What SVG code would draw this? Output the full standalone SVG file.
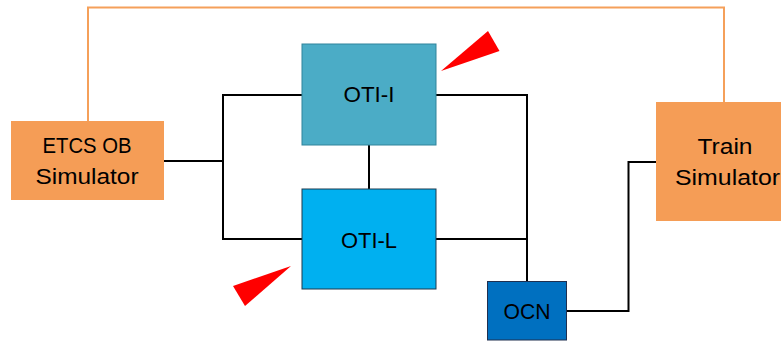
<svg xmlns="http://www.w3.org/2000/svg" width="781" height="341" viewBox="0 0 781 341">
<style>
.t{font-family:"Liberation Sans",Arial,sans-serif;font-size:22px;fill:#000;text-anchor:middle}
.w{fill:none;stroke:#000;stroke-width:2}
.o{fill:none;stroke:#F5A05A;stroke-width:2}
.tri{fill:#FF0000}
</style>
<rect width="781" height="341" fill="#fff"/>
<g id="connectors">
<polyline class="o" points="88,121 88,7.5 724,7.5 724,102"/>
<polyline class="w" points="164,161 223,161"/>
<polyline class="w" points="302,95 223,95 223,239 302,239"/>
<line class="w" x1="369" y1="145" x2="369" y2="189"/>
<polyline class="w" points="436,95 527,95 527,281"/>
<line class="w" x1="436" y1="239" x2="527" y2="239"/>
<polyline class="w" points="567,311 628.5,311 628.5,162 657,162"/>
</g>
<g id="etcs">
<rect x="11" y="121" width="153" height="79" fill="#F59D56"/>
<text class="t" x="87" y="153" textLength="89" lengthAdjust="spacingAndGlyphs">ETCS OB</text>
<text class="t" x="87" y="184" textLength="103" lengthAdjust="spacingAndGlyphs">Simulator</text>
</g>
<g id="oti-i">
<rect x="302" y="44" width="134" height="101" fill="#4BACC6" stroke="#31849B" stroke-width="1"/>
<text class="t" x="369" y="102" textLength="51" lengthAdjust="spacingAndGlyphs">OTI-I</text>
</g>
<g id="oti-l">
<rect x="302" y="189" width="134" height="100" fill="#00B0F0" stroke="#1F3A4F" stroke-width="1"/>
<text class="t" x="369" y="248" textLength="56" lengthAdjust="spacingAndGlyphs">OTI-L</text>
</g>
<g id="ocn">
<rect x="487.5" y="281.5" width="79" height="58.5" fill="#0070C0" stroke="#1F2F4F" stroke-width="1"/>
<text class="t" x="527" y="319" textLength="47" lengthAdjust="spacingAndGlyphs">OCN</text>
</g>
<g id="train">
<rect x="656" y="102" width="125" height="119" fill="#F59D56"/>
<text class="t" x="725" y="154" textLength="55" lengthAdjust="spacingAndGlyphs">Train</text>
<text class="t" x="727.5" y="185" textLength="105" lengthAdjust="spacingAndGlyphs">Simulator</text>
</g>
<g id="markers">
<polygon class="tri" points="441,71 488,31 499.5,51"/>
<polygon class="tri" points="291,266 233,286 245,306"/>
</g>
</svg>
